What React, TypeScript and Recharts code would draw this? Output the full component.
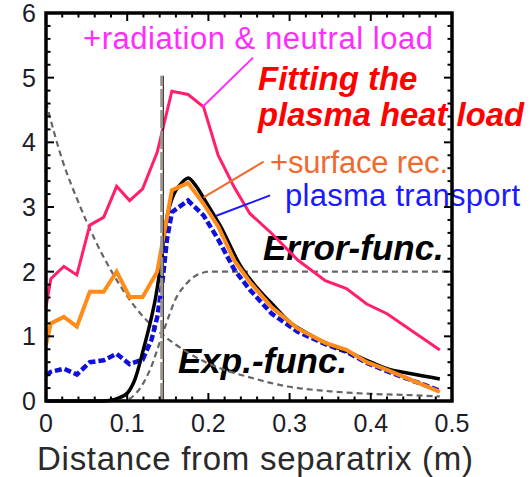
import React from 'react';
import {
  LineChart, Line, XAxis, YAxis, ReferenceLine, Customized,
} from 'recharts';

// measured heat-load profiles share one radial grid (m)
const MEAS_X = [0, 0.006, 0.022, 0.038, 0.054, 0.071, 0.087, 0.103, 0.119, 0.137, 0.155, 0.175, 0.194, 0.212, 0.232, 0.251, 0.278, 0.31, 0.344, 0.37, 0.395, 0.42, 0.485];
const RAD_NEUTRAL = [1.45, 1.89, 2.08, 1.95, 2.72, 2.84, 3.32, 3.1, 3.28, 3.85, 4.79, 4.74, 4.55, 3.8, 3.3, 2.9, 2.59, 2.18, 1.86, 1.74, 1.5, 1.35, 0.79];
const SURF_REC = [0.87, 1.2, 1.3, 1.15, 1.69, 1.69, 2.0, 1.61, 1.61, 2.0, 3.26, 3.37, 3.05, 2.7, 2.17, 1.84, 1.45, 1.12, 0.9, 0.79, 0.6, 0.48, 0.14];

const TRANSPORT_X = [0, 0.006, 0.022, 0.038, 0.054, 0.071, 0.087, 0.103, 0.119, 0.13, 0.137, 0.143, 0.149, 0.155, 0.175, 0.194, 0.212, 0.232, 0.251, 0.278, 0.31, 0.344, 0.37, 0.395, 0.42, 0.485];
const TRANSPORT = [0.4, 0.45, 0.5, 0.41, 0.6, 0.63, 0.73, 0.57, 0.64, 0.95, 1.3, 1.8, 2.5, 2.92, 3.1, 2.87, 2.5, 2.03, 1.72, 1.35, 1.07, 0.88, 0.76, 0.59, 0.46, 0.16];

// fitted profile (erf x exp)
const FIT_X = [0, 0.07, 0.08, 0.09, 0.1, 0.11, 0.12, 0.13, 0.135, 0.14, 0.145, 0.15, 0.155, 0.16, 0.165, 0.17, 0.175, 0.185, 0.195, 0.215, 0.24, 0.26, 0.28, 0.3, 0.32, 0.344, 0.37, 0.395, 0.42, 0.45, 0.485];
const FIT = [0, 0, 0.01, 0.05, 0.12, 0.35, 0.8, 1.3, 1.6, 2.0, 2.5, 2.9, 3.12, 3.26, 3.34, 3.41, 3.45, 3.32, 3.12, 2.7, 2.08, 1.75, 1.48, 1.22, 1.06, 0.9, 0.77, 0.63, 0.5, 0.42, 0.34];

const EXP_X = [0, 0.02, 0.04, 0.06, 0.08, 0.1, 0.12, 0.14, 0.16, 0.18, 0.2, 0.22, 0.25, 0.28, 0.3, 0.35, 0.4, 0.45, 0.485];
const EXP_FUNC = [4.62, 3.73, 3.07, 2.5, 2.02, 1.62, 1.3, 1.06, 0.87, 0.71, 0.58, 0.48, 0.37, 0.27, 0.22, 0.15, 0.11, 0.09, 0.07];

const ERF_X = [0.09, 0.1, 0.113, 0.128, 0.145, 0.161, 0.172, 0.182, 0.19, 0.2, 0.5];
const ERF_FUNC = [0, 0.02, 0.15, 0.48, 1.09, 1.61, 1.8, 1.92, 1.97, 2.0, 2.0];

const SEPARATRIX_X = 0.1425;

const X_MAX = 0.5;
const Y_MAX = 6;
const X_LABELS = ['0', '0.1', '0.2', '0.3', '0.4', '0.5'];
const Y_LABELS = ['0', '1', '2', '3', '4', '5', '6'];
const X_TICKS = Array.from({ length: 26 }, (_, i) => +(i * 0.02).toFixed(2));
const Y_TICKS = Array.from({ length: 31 }, (_, i) => +(i * 0.2).toFixed(1));

// plotting box in px (matches the chart margins and axis sizes below)
const BOX = { left: 46, top: 13, width: 406, height: 388 };
const W = 530;
const H = 477;

const FONT = '"Liberation Sans", Arial, sans-serif';

const toPoints = (xs: number[], ys: number[]) => xs.map((x, i) => ({ x, y: ys[i] }));

const isMajor = (v: number, step: number) => Math.abs(v / step - Math.round(v / step)) < 1e-6;

const BottomLabel = ({ x, y, payload }: any) => {
  if (!isMajor(payload.value, 0.1)) return null;
  return (
    <text x={x} y={y + 31} textAnchor="middle" fontSize={25} fontFamily={FONT} fill="#1c1c28">
      {X_LABELS[Math.round(payload.value * 10)]}
    </text>
  );
};

const LeftLabel = ({ x, y, payload }: any) => (
  <text x={x - 10} y={y + 9} textAnchor="end" fontSize={25} fontFamily={FONT} fill="#1c1c28">
    {Y_LABELS[Math.round(payload.value)]}
  </text>
);

// box with inward ticks on all four sides, laid over the chart surface
const FrameOverlay = () => {
  const { left, top, width, height } = BOX;
  const right = left + width;
  const bottom = top + height;
  const px = (v: number) => left + (v / X_MAX) * width;
  const py = (v: number) => bottom - (v / Y_MAX) * height;
  return (
    <svg width={W} height={H} style={{ position: 'absolute', left: 0, top: 0, pointerEvents: 'none' }}>
      <g stroke="#000" fill="none">
        {X_TICKS.map((v) => {
          const len = isMajor(v, 0.1) ? 8 : 4.5;
          return (
            <g key={`x${v}`} strokeWidth={2}>
              <line x1={px(v)} x2={px(v)} y1={bottom} y2={bottom - len} />
              <line x1={px(v)} x2={px(v)} y1={top} y2={top + len} />
            </g>
          );
        })}
        {Y_TICKS.map((v) => {
          const len = isMajor(v, 1) ? 8 : 4.5;
          return (
            <g key={`y${v}`} strokeWidth={2}>
              <line x1={left} x2={left + len} y1={py(v)} y2={py(v)} />
              <line x1={right} x2={right - len} y1={py(v)} y2={py(v)} />
            </g>
          );
        })}
        <path
          d={`M${left},${top} H${right} V${bottom} H${left} Z`}
          strokeWidth={3.5}
          strokeLinejoin="miter"
        />
      </g>
    </svg>
  );
};

const Annotations = () => (
  <g fontFamily={FONT}>
    <text x={83} y={49} fontSize={31} fill="#ff2cff" textLength={350} lengthAdjust="spacing">
      +radiation &amp; neutral load
    </text>
    <text x={258} y={90} fontSize={33} fontWeight="bold" fontStyle="italic" fill="#ff0000">
      Fitting the
    </text>
    <text x={258} y={126} fontSize={33} fontWeight="bold" fontStyle="italic" fill="#ff0000" textLength={266} lengthAdjust="spacingAndGlyphs">
      plasma heat load
    </text>
    <text x={270} y={173} fontSize={31} fill="#f06a30" textLength={178} lengthAdjust="spacing">
      +surface rec.
    </text>
    <text x={285} y={206} fontSize={31} fill="#1a1aff" textLength={235} lengthAdjust="spacing">
      plasma transport
    </text>
    <text x={263} y={260} fontSize={35} fontWeight="bold" fontStyle="italic" fill="#000">
      Error-func.
    </text>
    <text x={178} y={373} fontSize={35} fontWeight="bold" fontStyle="italic" fill="#000">
      Exp.-func.
    </text>
    <text x={255} y={470} fontSize={33} textAnchor="middle" fill="#2a2a2a" textLength={436} lengthAdjust="spacing">
      Distance from separatrix (m)
    </text>
  </g>
);

export default function App() {
  return (
    <div style={{ position: 'absolute', left: 0, top: 0, width: W, height: H, background: '#fff' }}>
      <LineChart width={W} height={H} margin={{ top: BOX.top, right: W - BOX.left - BOX.width, bottom: 0, left: 0 }}>
        <XAxis
          dataKey="x" type="number" domain={[0, X_MAX]} ticks={X_TICKS} interval={0}
          height={H - BOX.top - BOX.height} tickSize={0} tickMargin={0} tickLine={false} axisLine={false}
          tick={<BottomLabel />}
        />
        <YAxis
          type="number" domain={[0, Y_MAX]} ticks={[0, 1, 2, 3, 4, 5, 6]} interval={0}
          width={BOX.left} tickSize={0} tickMargin={0} tickLine={false} axisLine={false} tick={<LeftLabel />}
        />

        <Line data={toPoints(EXP_X, EXP_FUNC)} dataKey="y" type="monotone" stroke="#666" strokeWidth={2.2}
          strokeDasharray="6 4" dot={false} isAnimationActive={false} />
        <Line data={toPoints(ERF_X, ERF_FUNC)} dataKey="y" type="monotone" stroke="#666" strokeWidth={2.2}
          strokeDasharray="6 4" dot={false} isAnimationActive={false} />

        <Line data={toPoints(MEAS_X, RAD_NEUTRAL)} dataKey="y" type="linear" stroke="#ff1f6e" strokeWidth={3}
          dot={false} isAnimationActive={false} />
        <Line data={toPoints(TRANSPORT_X, TRANSPORT)} dataKey="y" type="linear" stroke="#1010dc" strokeWidth={4.5}
          strokeDasharray="7 3" dot={false} isAnimationActive={false} />
        <Line data={toPoints(FIT_X, FIT)} dataKey="y" type="monotone" stroke="#000" strokeWidth={3.5}
          dot={false} isAnimationActive={false} />
        <Line data={toPoints(MEAS_X, SURF_REC)} dataKey="y" type="linear" stroke="#ff8c1a" strokeWidth={4}
          dot={false} isAnimationActive={false} />

        {/* separatrix marker */}
        <ReferenceLine segment={[{ x: SEPARATRIX_X + 0.002, y: 0 }, { x: SEPARATRIX_X + 0.002, y: 5.03 }]}
          stroke="#222" strokeWidth={1.2} ifOverflow="visible" />
        <ReferenceLine segment={[{ x: SEPARATRIX_X, y: 0 }, { x: SEPARATRIX_X, y: 5.03 }]}
          stroke="#9c928c" strokeWidth={3} strokeDasharray="18 3" ifOverflow="visible" />

        {/* leader lines to the labels */}
        <ReferenceLine segment={[{ x: 0.193, y: 4.55 }, { x: 0.255, y: 5.31 }]} stroke="#ff2cff" strokeWidth={2} />
        <ReferenceLine segment={[{ x: 0.194, y: 3.15 }, { x: 0.268, y: 3.7 }]} stroke="#f06a30" strokeWidth={2} />
        <ReferenceLine segment={[{ x: 0.209, y: 2.86 }, { x: 0.276, y: 3.18 }]} stroke="#1a1aff" strokeWidth={2} />

        <Customized component={Annotations} />
      </LineChart>
      <FrameOverlay />
    </div>
  );
}
